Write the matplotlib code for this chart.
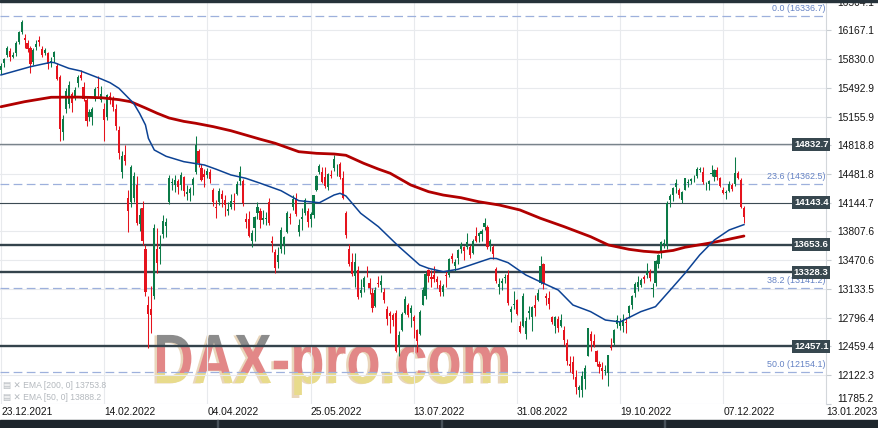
import numpy as np
import matplotlib.pyplot as plt
from matplotlib.patches import Rectangle, PathPatch
from matplotlib.textpath import TextPath
from matplotlib.font_manager import FontProperties
from matplotlib.transforms import Affine2D

plt.rcParams['font.family'] = ['Liberation Sans', 'DejaVu Sans']

# daily DAX candles, 23.12.2021 .. 16.12.2022 (one entry per trading day)
opens = [
    15700, 15780, 15880, 15930, 15860, 15900, 16030, 16150, 16080, 16020,
    15960, 15800, 15970, 16050, 15950, 15900, 15900, 15800, 15850, 15750,
    15620, 14980, 15250, 15300, 15420, 15380, 15550, 15650, 15500, 15350,
    15150, 15150, 15360, 15500, 15350, 15250, 15150, 15400, 15350, 15250,
    15000, 14500, 14700, 14200, 14150, 14200, 14350, 13900, 14080, 13600,
    12950, 12900, 13050, 13600, 13600, 13780, 13870, 14150, 14380, 14350,
    14400, 14350, 14450, 14250, 14260, 14350, 14500, 14750, 14550, 14480,
    14470, 14500, 14300, 14100, 14150, 14250, 14180, 14050, 14100, 14160,
    14250, 14400, 14400, 13950, 13950, 13700, 13850, 14020, 14050, 13940,
    13950, 14150, 13700, 13570, 13450, 13600, 13650, 13800, 13970, 14100,
    14200, 13800, 13950, 14030, 14050, 13950, 14000, 14300, 14500, 14500,
    14450, 14330, 14470, 14550, 14550, 14600, 14430, 14020, 13600, 13450,
    13280, 13350, 13080, 13150, 13300, 13200, 13080, 12930, 13200, 13180,
    13100, 12900, 12850, 12830, 12850, 12450, 12650, 12850, 12950, 12850,
    12800, 12650, 12600, 12950, 13050, 13350, 13270, 13300, 13250, 13180,
    13100, 13300, 13300, 13520, 13400, 13500, 13600, 13620, 13620, 13620,
    13560, 13760, 13750, 13780, 13860, 13860, 13650, 13620, 13370, 13150,
    13200, 13260, 13300, 12860, 12950, 13000, 12700, 12700, 12600, 12850,
    12800, 12950, 13000, 13200, 13420, 13050, 13030, 12800, 12700, 12780,
    12700, 12650, 12500, 12250, 12280, 12100, 11950, 11950, 12080, 12350,
    12600, 12520, 12400, 12250, 12200, 12170, 12150, 12450, 12500, 12720,
    12700, 12700, 12750, 12850, 12950, 13080, 13150, 13180, 13270, 13300,
    13330, 13130, 13200, 13420, 13560, 13650, 13650, 14180, 14230, 14330,
    14290, 14180, 14300, 14380, 14400, 14420, 14460, 14530, 14500, 14350,
    14370, 14480, 14450, 14530, 14430, 14300, 14260, 14280, 14350, 14360,
    14494, 14412, 14083]
highs = [
    15790, 15845, 15990, 15960, 15910, 16040, 16160, 16285, 16120, 16060,
    15990, 15960, 16060, 16100, 15990, 15960, 15920, 15860, 15930, 15780,
    15640, 15180, 15490, 15570, 15440, 15500, 15650, 15700, 15560, 15380,
    15250, 15270, 15500, 15630, 15510, 15320, 15420, 15440, 15400, 15300,
    15050, 14750, 14820, 14300, 14590, 14500, 14460, 14080, 14160, 13650,
    13050, 13170, 13890, 13850, 13770, 14000, 13960, 14470, 14440, 14470,
    14420, 14510, 14460, 14350, 14330, 14450, 14925, 14770, 14600, 14540,
    14550, 14540, 14320, 14180, 14320, 14300, 14230, 14150, 14250, 14260,
    14400, 14580, 14420, 14030, 14050, 13820, 13990, 14150, 14080, 14060,
    14040, 14200, 13760, 13600, 13620, 13860, 13760, 14050, 14030, 14230,
    14260, 13950, 14080, 14200, 14080, 14040, 14240, 14470, 14600, 14560,
    14560, 14490, 14530, 14710, 14600, 14620, 14520, 14050, 13660, 13560,
    13560, 13400, 13250, 13290, 13400, 13260, 13140, 13150, 13280, 13300,
    13140, 12930, 12870, 12850, 12880, 12640, 12860, 13050, 12970, 12940,
    12830, 12660, 12880, 13160, 13330, 13370, 13360, 13400, 13280, 13240,
    13190, 13340, 13500, 13560, 13480, 13600, 13680, 13640, 13790, 13650,
    13720, 13860, 13800, 13840, 13960, 13880, 13720, 13650, 13390, 13260,
    13260, 13310, 13360, 12930, 13110, 13010, 12760, 13080, 12800, 12930,
    12930, 13060, 13130, 13520, 13440, 13080, 13110, 12820, 12820, 12810,
    12840, 12700, 12550, 12350, 12340, 12180, 12000, 12170, 12240, 12680,
    12640, 12600, 12420, 12290, 12270, 12240, 12360, 12560, 12660, 12830,
    12790, 12840, 12800, 12950, 13060, 13210, 13280, 13260, 13300, 13440,
    13370, 13200, 13470, 13540, 13700, 13720, 14160, 14250, 14330, 14420,
    14320, 14280, 14440, 14420, 14440, 14470, 14560, 14570, 14560, 14390,
    14410, 14590, 14540, 14560, 14450, 14330, 14300, 14400, 14380, 14680,
    14520, 14440, 14110]
lows = [
    15660, 15740, 15850, 15810, 15840, 15870, 16010, 16120, 15960, 15920,
    15670, 15760, 15940, 15980, 15850, 15880, 15720, 15740, 15800, 15580,
    14870, 14880, 15200, 15260, 15210, 15350, 15500, 15580, 15340, 15040,
    15100, 15060, 15340, 15400, 15330, 14870, 15120, 15300, 15220, 15000,
    14660, 14440, 14590, 13800, 14100, 14150, 13880, 13810, 13650, 13050,
    12440, 12620, 13020, 13320, 13430, 13730, 13740, 14130, 14300, 14270,
    14250, 14300, 14220, 14180, 14160, 14240, 14480, 14570, 14400, 14330,
    14440, 14380, 14110, 13960, 14120, 14100, 13990, 14000, 14070, 14060,
    14240, 14350, 14110, 13850, 13740, 13620, 13700, 13950, 13850, 13890,
    13880, 13880, 13570, 13320, 13380, 13550, 13540, 13790, 13900, 14060,
    13990, 13760, 13830, 14000, 13860, 13860, 13960, 14280, 14480, 14380,
    14320, 14300, 14430, 14520, 14460, 14420, 14190, 13730, 13400, 13280,
    13160, 13020, 13040, 13100, 13270, 13070, 12860, 12920, 13150, 13100,
    12970, 12710, 12620, 12700, 12390, 12350, 12640, 12840, 12800, 12690,
    12560, 12390, 12590, 12940, 13020, 13220, 13150, 13210, 13140, 13050,
    13050, 13150, 13270, 13440, 13340, 13420, 13560, 13470, 13600, 13500,
    13540, 13680, 13680, 13700, 13820, 13600, 13580, 13480, 13200, 13070,
    13120, 13200, 12950, 12750, 12900, 12830, 12610, 12690, 12540, 12780,
    12640, 12810, 12990, 13190, 13130, 12950, 12900, 12720, 12620, 12630,
    12690, 12480, 12240, 12160, 12080, 11900, 11862, 11870, 11960, 12340,
    12400, 12450, 12230, 12150, 12070, 12120, 11990, 12420, 12480, 12670,
    12650, 12630, 12620, 12790, 12900, 13040, 13110, 13150, 13200, 13260,
    13230, 13040, 13170, 13380, 13500, 13610, 13600, 14100, 14170, 14260,
    14200, 14140, 14290, 14330, 14360, 14390, 14440, 14500, 14360, 14300,
    14290, 14460, 14400, 14410, 14330, 14250, 14190, 14270, 14280, 14340,
    14420, 14080, 13907]
closes = [
    15756, 15838, 15964, 15853, 15885, 16020, 16152, 16271, 16052, 15948,
    15768, 15942, 16010, 16031, 15883, 15933, 15772, 15810, 15912, 15603,
    15011, 15123, 15460, 15524, 15318, 15471, 15619, 15613, 15368, 15100,
    15206, 15242, 15482, 15490, 15425, 15113, 15412, 15370, 15267, 15042,
    14731, 14693, 14631, 14052, 14567, 14461, 13905, 14000, 13698, 13094,
    12835, 12831, 13847, 13442, 13628, 13929, 13917, 14441, 14388, 14413,
    14326, 14473, 14283, 14273, 14306, 14418, 14820, 14606, 14415, 14446,
    14518, 14424, 14152, 14078, 14284, 14193, 14124, 14076, 14164, 14153,
    14362, 14502, 14143, 13924, 13756, 13793, 13979, 14098, 13940, 13970,
    13970, 13902, 13674, 13381, 13534, 13828, 13739, 14027, 13964, 14186,
    14008, 13882, 13982, 14175, 13919, 14008, 14231, 14462, 14575, 14388,
    14340, 14485, 14460, 14653, 14556, 14445, 14198, 13762, 13427, 13304,
    13447, 13038, 13126, 13265, 13292, 13145, 12913, 13118, 13186, 13231,
    13003, 12784, 12813, 12773, 12401, 12595, 12843, 13015, 12832, 12905,
    12756, 12519, 12864, 13119, 13308, 13282, 13247, 13254, 13210, 13097,
    13166, 13282, 13484, 13479, 13449, 13587, 13662, 13574, 13687, 13535,
    13700, 13694, 13795, 13816, 13910, 13626, 13697, 13544, 13230, 13194,
    13221, 13271, 12971, 12893, 12961, 12835, 12630, 13050, 12761, 12871,
    12916, 12904, 13088, 13403, 13189, 13028, 12956, 12741, 12803, 12671,
    12767, 12532, 12284, 12228, 12140, 11976, 11976, 12114, 12209, 12670,
    12517, 12471, 12273, 12218, 12173, 12172, 12355, 12438, 12649, 12765,
    12741, 12767, 12731, 12931, 13053, 13195, 13211, 13243, 13253, 13338,
    13256, 13130, 13460, 13533, 13689, 13667, 14146, 14224, 14313, 14379,
    14234, 14266, 14431, 14380, 14422, 14428, 14539, 14541, 14383, 14355,
    14397, 14490, 14529, 14448, 14343, 14261, 14264, 14370, 14306, 14490,
    14435, 14095, 13981]

# moving averages (bar number, value)
ema200_bars = [0, 8, 17, 26, 34, 40, 44, 49, 53, 57, 62, 66, 72, 78, 83, 88, 93, 101,
               107, 113, 117, 123, 128, 132, 139, 145, 150, 156, 162, 169, 176, 183,
               191, 200, 206, 213, 218, 223, 228, 232, 240, 246, 252]
ema200_vals = [15272, 15331, 15383, 15385, 15378, 15355, 15331, 15257, 15195, 15140,
               15100, 15078, 15038, 14990, 14940, 14890, 14843, 14744, 14725, 14717,
               14702, 14608, 14540, 14491, 14353, 14275, 14235, 14204, 14157, 14118,
               14060, 13962, 13864, 13746, 13649, 13598, 13575, 13563, 13585, 13622,
               13669, 13710, 13754]
ema50_bars = [0, 10, 17, 18, 23, 27, 34, 37, 40, 45, 47, 49, 50, 52, 56, 62, 69, 73, 78,
              83, 88, 95, 101, 108, 113, 115, 117, 122, 128, 135, 142, 145, 150, 155,
              161, 166, 168, 172, 178, 184, 189, 194, 200, 205, 210, 217, 222, 227, 232,
              237, 242, 247, 252]
ema50_vals = [15645, 15742, 15794, 15790, 15723, 15692, 15598, 15554, 15488, 15312,
              15195, 15058, 14900, 14764, 14690, 14627, 14588, 14538, 14471, 14432,
              14373, 14286, 14169, 14145, 14236, 14256, 14224, 14021, 13864, 13629,
              13414, 13375, 13335, 13364, 13434, 13492, 13490, 13441, 13297, 13199,
              13120, 12944, 12866, 12768, 12745, 12866, 12925, 13120, 13317, 13532,
              13708, 13825, 13888]

x_tick_bars = [0, 35, 70, 105, 140, 175, 210, 245, 280]
x_labels = ['23.12.2021', '14.02.2022', '04.04.2022', '25.05.2022', '13.07.2022',
            '31.08.2022', '19.10.2022', '07.12.2022', '13.01.2023']
y_ticks = [16504.1, 16167.1, 15830.0, 15492.9, 15155.9, 14818.8, 14481.8, 14144.7,
           13807.6, 13470.6, 13133.5, 12796.4, 12459.4, 12122.3, 11785.2]

levels = [14832.7, 14143.4, 13653.6, 13328.3, 12457.1]
level_widths = [1.0, 0.8, 1.7, 1.7, 1.7]
level_colors = ['#79838b', '#3c4a53', '#34434c', '#34434c', '#34434c']
fib_names = ['0.0', '23.6', '38.2', '50.0']
fib_levels = [16336.7, 14362.5, 13141.2, 12154.1]

W, H = 879, 428
fig = plt.figure(figsize=(W / 100, H / 100), dpi=100)
fig.patch.set_facecolor('white')

# background layer for the watermark (pixel coordinates)
bg = fig.add_axes([0, 0, 1, 1], zorder=0)
bg.set_xlim(0, W)
bg.set_ylim(H, 0)
bg.axis('off')

fp = FontProperties(family=['Liberation Sans Narrow', 'Liberation Sans'], weight='bold')
tp = TextPath((0, 0), 'DAX-pro.com', size=1, prop=fp)
bb = tp.get_extents()
sx = (508 - 157) / bb.width
sy = (383 - 332) / 0.73
shadow = Affine2D().translate(-bb.x0, 0).scale(sx, -sy).translate(154.5, 383.5)
main = Affine2D().translate(-bb.x0, 0).scale(sx, -sy).translate(157, 383)
bg.add_patch(PathPatch(shadow.transform_path(tp), fc='#e9d6bb', ec='none', zorder=1))
clip = PathPatch(main.transform_path(tp), fc='none', ec='none', zorder=1)
bg.add_patch(clip)
bands = np.array([[[0.55, 0.55, 0.55, 1.0]]] * 15 + [[[0.89, 0.53, 0.53, 1.0]]] * 26
                 + [[[0.91, 0.86, 0.55, 1.0]]] * 22)
im = bg.imshow(bands, extent=(150, 515, 395, 332), aspect='auto',
               interpolation='nearest', zorder=2)
im.set_clip_path(clip)
bg.set_xlim(0, W)
bg.set_ylim(H, 0)

# main chart
ax = fig.add_axes([0, 24 / H, 826.5 / W, 1 - 24 / H], zorder=1)
ax.patch.set_alpha(0)
ax.set_xlim(-0.34, 280)
ax.set_ylim(11782, 16525)

o = np.array(opens)
hi = np.array(highs)
lo = np.array(lows)
c = np.array(closes)
idx = np.arange(len(c))
cols = np.where(c >= o, '#0b7a47', '#e5131d')
ax.vlines(idx, lo, hi, colors=cols, lw=0.75, zorder=3)
ax.bar(idx, np.maximum(np.abs(c - o), 8), bottom=np.minimum(o, c), width=0.72,
       color=cols, lw=0, zorder=4)

ax.plot(ema200_bars, ema200_vals, color='#b10000', lw=2.0, zorder=5,
        solid_capstyle='round', solid_joinstyle='round')
ax.plot(ema50_bars, ema50_vals, color='#0c4294', lw=1.1, zorder=5, solid_joinstyle='round')

for lv, lw, col in zip(levels, level_widths, level_colors):
    ax.axhline(lv, color=col, lw=lw, zorder=2.5)
    ax.annotate(f'{lv:.1f}', xy=(1, lv), xycoords=('axes fraction', 'data'),
                xytext=(1.5, 0), textcoords='offset points', ha='right', va='center',
                fontsize=6.8, fontweight='bold', color='white', annotation_clip=False,
                bbox=dict(boxstyle='square,pad=0.2', fc='#37474f', ec='none'), zorder=7)

for name, lv in zip(fib_names, fib_levels):
    ax.axhline(lv, color='#9db0dc', lw=0.9, ls=(0, (7, 3.5)), zorder=2.4)
    ax.annotate(f'{name} ({lv:.1f})', xy=(1, lv), xycoords=('axes fraction', 'data'),
                xytext=(-0.5, 5.5), textcoords='offset points', ha='right', va='center',
                fontsize=6.4, color='#6482c4', zorder=6)

ax.yaxis.tick_right()
ax.set_yticks(y_ticks)
ax.set_yticklabels([f'{v:.1f}' for v in y_ticks])
ax.tick_params(axis='y', length=3.5, width=0.8, color='#c8cdd2', pad=4,
               labelsize=7.4, labelcolor='#151515')
ax.get_yticklabels()[-1].set_va('bottom')
ax.set_xticks(x_tick_bars)
ax.set_xticklabels(x_labels, ha='left')
ax.tick_params(axis='x', length=0, pad=2.5, labelsize=7.4, labelcolor='#151515')
ax.grid(True, color='#e8eaed', lw=0.8)
ax.set_axisbelow(True)
for side in ['top', 'bottom', 'left']:
    ax.spines[side].set_visible(False)
ax.spines['right'].set_color('#d3d7db')
ax.spines['right'].set_linewidth(0.8)

# indicator legend, bottom left
fig.text(3 / W, 1 - 385 / H, '▤ ✕ EMA [200, 0] 13753.8', fontsize=6.2, color='#b4b9be',
         va='center', family=['Liberation Sans', 'DejaVu Sans'], zorder=8)
fig.text(3 / W, 1 - 397 / H, '▤ ✕ EMA [50, 0] 13888.2', fontsize=6.2, color='#b4b9be',
         va='center', family=['Liberation Sans', 'DejaVu Sans'], zorder=8)

# dark frame bars at top and bottom
fig.add_artist(Rectangle((0, 1 - 1.5 / H), 1, 1.5 / H, transform=fig.transFigure,
                         color='#26323a', zorder=9))
fig.add_artist(Rectangle((0, 0), 1, 8 / H, transform=fig.transFigure,
                         color='#1d252b', zorder=9))
for sx_ in [217, 441, 664]:
    fig.add_artist(Rectangle((sx_ / W, 0), 1.2 / W, 8 / H, transform=fig.transFigure,
                             color='#48525a', zorder=10))

fig.savefig('out.png', dpi=100)
